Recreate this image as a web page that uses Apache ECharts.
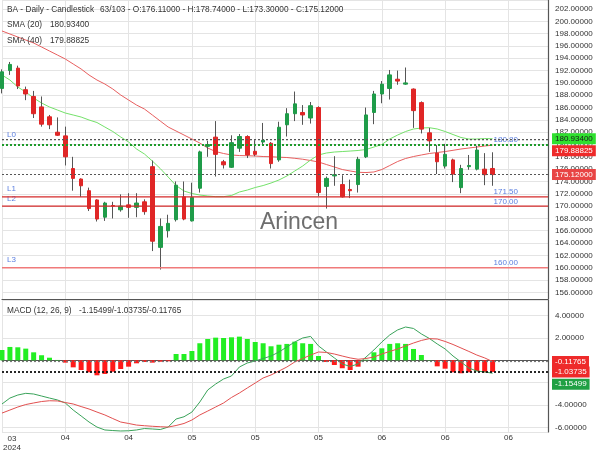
<!DOCTYPE html>
<html>
<head>
<meta charset="utf-8">
<script src="https://cdn.jsdelivr.net/npm/echarts@6.0.0/dist/echarts.min.js"></script>
<style>
html,body{margin:0;padding:0;background:#ffffff;}
#chart{width:600px;height:450px;}
</style>
</head>
<body>
<div id="chart"></div>
<script>
// ---------------- DATA ----------------
const categories = [
 '2024-03-27','2024-03-28','2024-04-01','2024-04-02','2024-04-03','2024-04-04','2024-04-05','2024-04-08',
 '2024-04-09','2024-04-10','2024-04-11','2024-04-12','2024-04-15','2024-04-16','2024-04-17','2024-04-18',
 '2024-04-19','2024-04-22','2024-04-23','2024-04-24','2024-04-25','2024-04-26','2024-04-29','2024-04-30',
 '2024-05-01','2024-05-02','2024-05-03','2024-05-06','2024-05-07','2024-05-08','2024-05-09','2024-05-10',
 '2024-05-13','2024-05-14','2024-05-15','2024-05-16','2024-05-17','2024-05-20','2024-05-21','2024-05-22',
 '2024-05-23','2024-05-24','2024-05-28','2024-05-29','2024-05-30','2024-05-31','2024-06-03','2024-06-04',
 '2024-06-05','2024-06-06','2024-06-07','2024-06-10','2024-06-11','2024-06-12','2024-06-13','2024-06-14',
 '2024-06-17','2024-06-18','2024-06-20','2024-06-21','2024-06-24','2024-06-25','2024-06-26','2024-06-27',
 '2024-06-28','2024-07-01','2024-07-02','2024-07-03','2024-07-05','2024-07-08'
];
const tickEvery = 8;
const tickLabels = ['03','04','04','05','05','05','06','06','06'];
const yearLabel = '2024';

// [open, high, low, close]
const ohlc = [
 [189.1,192.2,188.3,191.8],[192.0,193.4,191.3,193.0],[192.4,192.8,189.0,189.5],[188.9,189.4,187.2,188.2],
 [187.8,188.7,184.3,185.0],[186.1,187.8,182.9,183.3],[184.5,184.8,182.5,183.2],[182.0,184.4,181.4,181.5],
 [181.4,182.9,176.6,178.0],[176.1,178.0,172.5,174.5],[174.4,174.5,171.5,173.3],[172.5,173.0,169.2,169.6],
 [171.0,171.1,167.5,167.9],[168.2,170.7,167.6,170.5],[170.1,170.7,168.0,170.0],[169.4,171.9,169.1,170.0],
 [170.2,172.1,168.1,169.8],[169.8,172.1,168.2,170.5],[170.7,171.1,168.6,169.1],[176.4,177.4,162.7,164.3],
 [163.3,168.0,159.7,166.7],[166.0,168.6,164.9,167.2],[167.8,174.0,167.5,173.4],[171.5,174.0,167.7,167.9],
 [167.6,173.8,167.5,171.4],[172.9,179.0,172.2,178.8],[179.7,180.6,178.0,180.0],[181.2,183.8,174.8,178.4],
 [177.2,177.5,176.1,176.7],[176.3,181.5,176.2,180.3],[179.4,181.7,178.8,181.3],[181.3,181.5,177.8,178.3],
 [178.9,180.7,178.1,178.4],[180.4,183.5,179.8,180.7],[180.2,180.4,176.1,176.9],[177.5,183.7,177.2,182.8],
 [183.2,185.9,181.3,185.0],[185.0,188.6,183.8,186.6],[185.2,186.4,183.2,184.8],[184.3,186.9,183.4,186.3],
 [186.0,186.2,171.6,172.2],[173.2,174.8,169.6,174.5],[174.9,178.1,173.3,175.1],[173.5,175.0,171.4,171.5],
 [172.7,174.3,171.3,172.5],[173.5,178.0,172.2,177.6],[178.0,186.0,177.8,184.8],[185.2,188.7,183.3,188.2],
 [188.2,190.3,186.7,189.8],[189.1,192.1,187.3,191.3],[190.6,192.0,189.7,190.3],[189.8,192.5,189.7,190.0],
 [189.0,189.1,182.7,185.5],[186.8,187.0,181.8,182.5],[181.9,182.7,178.8,180.6],[178.6,179.9,175.2,177.2],
 [176.5,180.1,176.1,178.4],[177.5,177.7,173.9,175.2],[173.0,176.7,172.1,176.1],[176.4,178.3,175.9,176.6],
 [176.0,179.8,175.8,179.1],[176.0,178.6,173.4,175.1],[176.11,178.74,173.30,175.12]
];

const sma20 = [
 191.28,190.47,189.33,188.52,187.55,186.74,186.09,185.60,185.11,184.79,
 184.46,183.98,183.57,182.84,182.11,181.22,180.41,179.27,178.46,177.32,
 176.10,174.72,173.34,172.45,172.05,171.80,171.64,171.53,171.53,171.72,
 172.29,172.61,173.02,173.34,173.75,174.24,174.89,175.70,176.51,177.49,
 178.30,178.62,178.78,178.86,178.94,179.03,179.19,179.59,180.00,180.89,
 181.54,182.11,182.52,182.68,182.73,182.52,182.11,181.62,181.14,180.89,
 180.89,180.97,180.934
];
const sma40 = [
 198.43,197.94,197.45,196.96,196.48,195.83,195.18,194.53,193.88,193.07,
 192.26,191.28,190.47,189.82,189.01,188.04,187.22,186.41,185.76,184.79,
 183.81,182.84,182.19,181.54,180.89,180.24,179.43,178.86,178.54,178.30,
 178.21,178.18,178.13,178.05,178.02,177.94,177.89,177.76,177.61,177.40,
 177.16,176.75,176.35,175.94,175.70,175.49,175.45,175.54,175.94,176.59,
 177.24,177.73,178.05,178.30,178.54,178.70,178.86,179.06,179.27,179.43,
 179.59,179.76,179.88825
];

const macdLine = [
 -3.90,-3.37,-3.10,-2.95,-3.01,-3.19,-3.37,-3.54,-3.81,-4.44,
 -4.97,-5.51,-5.96,-6.22,-6.27,-6.31,-6.29,-6.22,-6.09,-6.13,
 -6.18,-5.96,-5.24,-5.04,-4.62,-3.72,-2.65,-2.12,-1.67,-1.40,
 -0.60,-0.24,-0.06,0.16,0.38,0.74,1.19,1.63,1.99,2.13,
 1.28,0.74,0.21,-0.33,-0.55,-0.33,0.29,0.92,1.63,2.26,
 2.71,2.97,2.84,2.35,1.95,1.46,1.01,0.38,-0.15,-0.69,
 -0.96,-1.04,-1.15499
];
const signalLine = [
 -4.71,-4.44,-4.17,-3.95,-3.81,-3.68,-3.61,-3.63,-3.77,-3.90,
 -4.13,-4.35,-4.62,-4.88,-5.20,-5.51,-5.64,-5.78,-5.84,-5.89,
 -5.93,-5.96,-5.82,-5.64,-5.33,-4.88,-4.53,-4.17,-3.81,-3.32,
 -2.92,-2.47,-2.03,-1.58,-1.31,-0.96,-0.60,-0.15,0.16,0.47,
 0.74,0.70,0.56,0.38,0.21,0.09,0.16,0.29,0.56,0.79,
 1.01,1.28,1.54,1.77,1.93,1.90,1.68,1.41,1.10,0.79,
 0.47,0.21,-0.11765
];
const histogram = [
 0.92,1.19,1.16,1.04,0.71,0.45,0.23,0.03,-0.21,-0.63,
 -0.87,-1.07,-1.34,-1.22,-1.02,-0.78,-0.57,-0.27,-0.15,-0.21,
 -0.13,-0.09,0.56,0.56,0.83,1.52,1.90,2.02,1.99,2.05,
 2.11,1.90,1.63,1.52,1.25,1.39,1.46,1.66,1.52,1.46,
 0.38,-0.15,-0.42,-0.71,-0.87,-0.57,0.05,0.71,1.07,1.46,
 1.52,1.46,1.01,0.47,0.02,-0.54,-0.75,-1.07,-1.16,-1.07,
 -0.96,-1.07,-1.03735
];

const levelNames  = ['L0','L1','L2','L3'];
const levelValues = [180.80, 171.50, 170.00, 160.00];
const levelTexts  = ['180.80','171.50','170.00','160.00'];

const lastClose = 175.12;
const lastSma20 = 180.934;
const lastSma40 = 179.88825;
const lastMacd = -1.15499;
const lastHist = -1.03735;
const lastSignal = -0.11765;

const priceRange = [154.92, 203.46];
const macdRange = [-6.40, 5.38];

const headerTitle = 'BA - Daily - Candlestick';
const headerOhlc = '63/103 - O:176.11000 - H:178.74000 - L:173.30000 - C:175.12000';
const sma20Title = 'SMA (20)', sma40Title = 'SMA (40)';
const macdTitle = 'MACD (12, 26, 9)';
const watermark = 'Arincen';

// ---------------- STYLES ----------------
const FONT = '"Liberation Sans", Arial, Helvetica, sans-serif';
const UP = '#1f9c49', DOWN = '#e02626', WICK = '#555555';
const LEVEL_BLUE = '#5b7fe0';
const CLEAR = 'rgba(0,0,0,0)';
const levelStyles = {
  L0: {line:{color:'#555555', type:[2,2], width:1.2}, left:[5,0.5], rightPos:'insideEnd', right:[30,0]},
  L1: {line:{color:'#d42a2a', type:'solid', width:1.2}, left:[5,4], rightPos:'insideEndTop', right:[30,1.4]},
  L2: {line:{color:'#d42a2a', type:'solid', width:1.2}, left:[5,3], rightPos:'insideEndTop', right:[30,0.5]},
  L3: {line:{color:'#f07a7a', type:'solid', width:1.5}, left:[5,4], rightPos:'insideEndTop', right:[30,0.7]}
};
const lastIdx = categories.length - 1;

function priceBox(value, text, bg, fg, dy) {
  return {
    coord: [lastIdx, value], symbol: 'rect', symbolSize: 0,
    label: {show: true, position: 'right', distance: 4, formatter: text,
      backgroundColor: bg, color: fg, fontSize: 8, fontFamily: FONT,
      padding: [2, 3, 1, 3], offset: [0, dy || 0]}
  };
}

// level lines: drawn as flat line series across the whole category range
const levelLineSeries = levelNames.map((n, k) => ({
  name: 'level-' + n, type: 'line', xAxisIndex: 0, yAxisIndex: 0, symbol: 'none', z: 5,
  silent: true, clip: false,
  data: [[categories[0], levelValues[k]], [categories[lastIdx], levelValues[k]]],
  lineStyle: levelStyles[n].line
}));
// level labels (left name / right value) as label-only mark lines
const levelLabelSeries = levelNames.map((n, k) => {
  const st = levelStyles[n];
  return {
    name: 'levellabel-' + n, type: 'line', xAxisIndex: 0, yAxisIndex: 0, data: [], z: 6,
    markLine: {silent: true, symbol: ['none', 'none'], animation: false, data: [
      {yAxis: levelValues[k], lineStyle: {color: CLEAR, width: 1, type: 'solid'},
       label: {show: true, position: 'insideStartTop', formatter: n, distance: st.left,
         color: LEVEL_BLUE, fontSize: 8, fontFamily: FONT}},
      {yAxis: levelValues[k], lineStyle: {color: CLEAR, width: 1, type: 'solid'},
       label: {show: true, position: st.rightPos, formatter: levelTexts[k], distance: st.right,
         color: LEVEL_BLUE, fontSize: 8, fontFamily: FONT}}
    ]}
  };
});

const showTick = (i) => i % tickEvery === 0;

const chart = echarts.init(document.getElementById('chart'), null, {renderer: 'canvas'});
const option = {
  animation: false,
  backgroundColor: '#ffffff',
  textStyle: {fontFamily: FONT},
  grid: [
    {left: 2, right: 52, top: 0, bottom: 151, outerBoundsMode: 'none', containLabel: false},
    {left: 2, right: 52, top: 300, bottom: 18, outerBoundsMode: 'none', containLabel: false}
  ],
  xAxis: [
    {type: 'category', gridIndex: 0, data: categories, boundaryGap: false,
     axisLine: {show: true, lineStyle: {color: '#555', width: 1.2}}, axisTick: {show: false},
     axisLabel: {show: false},
     splitLine: {show: true, interval: showTick, lineStyle: {color: '#e4e4e4', width: 1}}},
    {type: 'category', gridIndex: 1, data: categories, boundaryGap: false,
     axisLine: {show: true, lineStyle: {color: '#555', width: 1.2}}, axisTick: {show: false},
     axisLabel: {show: true, interval: showTick, fontSize: 8, color: '#333', margin: 2,
       formatter: (v, i) => {
         const t = tickLabels[Math.floor(i / tickEvery)];
         return i === 0 ? '{f|' + t + '}\n{f|' + yearLabel + '}' : t;
       },
       rich: {f: {fontSize: 8, color: '#333', padding: [0, 0, 0, 20], lineHeight: 9, fontFamily: FONT}}},
     splitLine: {show: true, interval: showTick, lineStyle: {color: '#e4e4e4', width: 1}}}
  ],
  yAxis: [
    {type: 'value', gridIndex: 0, position: 'right', min: priceRange[0], max: priceRange[1],
     minInterval: 2, maxInterval: 2, splitNumber: 24, scale: true,
     axisLine: {show: true, lineStyle: {color: '#555', width: 1.2}}, axisTick: {show: false},
     axisLabel: {fontSize: 8, color: '#333', margin: 7, showMinLabel: false, showMaxLabel: false,
       formatter: v => v.toFixed(5)},
     splitLine: {show: true, lineStyle: {color: '#e4e4e4', width: 1}}},
    {type: 'value', gridIndex: 1, position: 'right', min: macdRange[0], max: macdRange[1],
     minInterval: 2, maxInterval: 2, splitNumber: 6,
     axisLine: {show: true, lineStyle: {color: '#555', width: 1.2}}, axisTick: {show: false},
     axisLabel: {fontSize: 8, color: '#333', margin: 7, showMinLabel: false, showMaxLabel: false,
       formatter: v => v.toFixed(5)},
     splitLine: {show: true, lineStyle: {color: '#e4e4e4', width: 1}}}
  ],
  series: [
    {name: 'SMA40', type: 'line', xAxisIndex: 0, yAxisIndex: 0, data: sma40, symbol: 'none',
     lineStyle: {color: '#e85f5f', width: 1}, clip: false, z: 2,
     markPoint: {data: [priceBox(lastSma40, lastSma40.toFixed(5), '#ee2a2a', '#ffffff', 5.6)]}},
    {name: 'SMA20', type: 'line', xAxisIndex: 0, yAxisIndex: 0, data: sma20, symbol: 'none',
     lineStyle: {color: '#74e26a', width: 1}, clip: false, z: 2,
     markPoint: {z: 10, data: [priceBox(lastSma20, lastSma20.toFixed(5), '#2fe02f', '#1a1a1a', 0)]}},
    {name: 'wick', type: 'candlestick', xAxisIndex: 0, yAxisIndex: 0, barWidth: 1, clip: false, z: 3,
     data: ohlc.map(d => [d[0], d[3], d[2], d[1]]),
     itemStyle: {color: WICK, color0: WICK, borderColor: WICK, borderColor0: WICK, borderWidth: 1}},
    {name: 'body', type: 'candlestick', xAxisIndex: 0, yAxisIndex: 0, barWidth: 4, clip: false, z: 4,
     data: ohlc.map(d => [d[0], d[3], Math.min(d[0], d[3]), Math.max(d[0], d[3])]),
     itemStyle: {color: UP, color0: DOWN, borderColor: UP, borderColor0: DOWN, borderWidth: 1},
     markLine: {silent: true, symbol: ['none', 'none'], animation: false, data: [
       {yAxis: lastSma40, lineStyle: {color: '#1d9a2a', type: [2,2], width: 2}, label: {show: false}},
       {yAxis: lastClose, lineStyle: {color: '#555', type: [2,2], width: 1.2}, label: {show: false}}
     ]},
     markPoint: {data: [priceBox(lastClose, lastClose.toFixed(5), '#e84444', '#ffffff', 0)]}},
    ...levelLineSeries,
    ...levelLabelSeries,
    {name: 'hist', type: 'bar', xAxisIndex: 1, yAxisIndex: 1, data: histogram, barWidth: 5,
     itemStyle: {color: p => p.value >= 0 ? '#22ee22' : '#ff1a1a'},
     markLine: {silent: true, symbol: ['none', 'none'], animation: false, data: [
       {yAxis: lastSignal, lineStyle: {color: '#777', type: [2,2], width: 1.2}, label: {show: false}},
       {yAxis: lastHist, lineStyle: {color: '#111', type: [2,2], width: 1.8}, label: {show: false}}
     ]},
     markPoint: {data: [priceBox(lastHist, lastHist.toFixed(5), '#ee2a2a', '#ffffff', 0)]}},
    {name: 'MACD', type: 'line', xAxisIndex: 1, yAxisIndex: 1, data: macdLine, symbol: 'none',
     lineStyle: {color: '#3aa35a', width: 1}, clip: false, z: 3,
     markPoint: {data: [priceBox(lastMacd, lastMacd.toFixed(5), '#20a044', '#ffffff', 11)]}},
    {name: 'Signal', type: 'line', xAxisIndex: 1, yAxisIndex: 1, data: signalLine, symbol: 'none',
     lineStyle: {color: '#e25050', width: 1}, clip: false, z: 3,
     markPoint: {data: [priceBox(lastSignal, lastSignal.toFixed(5), '#ee2a2a', '#ffffff', 0)]}}
  ],
  graphic: [
    {type: 'text', x: 260, y: 223, z: 1, silent: true,
     style: {text: watermark, font: '23px ' + FONT, fill: '#6e6e6e', verticalAlign: 'middle'}},
    {type: 'text', x: 7, y: 9.5, z: 100, style: {text: headerTitle, font: '8.3px ' + FONT, fill: '#333', verticalAlign: 'middle'}},
    {type: 'text', x: 100, y: 9.5, z: 100, style: {text: headerOhlc, font: '8.3px ' + FONT, fill: '#333', verticalAlign: 'middle'}},
    {type: 'text', x: 7, y: 25, z: 100, style: {text: sma20Title, font: '8.3px ' + FONT, fill: '#333', verticalAlign: 'middle'}},
    {type: 'text', x: 50, y: 25, z: 100, style: {text: lastSma20.toFixed(5), font: '8.3px ' + FONT, fill: '#333', verticalAlign: 'middle'}},
    {type: 'text', x: 7, y: 41, z: 100, style: {text: sma40Title, font: '8.3px ' + FONT, fill: '#333', verticalAlign: 'middle'}},
    {type: 'text', x: 50, y: 41, z: 100, style: {text: lastSma40.toFixed(5), font: '8.3px ' + FONT, fill: '#333', verticalAlign: 'middle'}},
    {type: 'text', x: 7, y: 311, z: 100, style: {text: macdTitle, font: '8.3px ' + FONT, fill: '#333', verticalAlign: 'middle'}},
    {type: 'text', x: 79, y: 311, z: 100, style: {text: lastMacd.toFixed(5) + '/' + lastHist.toFixed(5) + '/' + lastSignal.toFixed(5), font: '8.3px ' + FONT, fill: '#333', verticalAlign: 'middle'}}
  ]
};
chart.setOption(option);
</script>
</body>
</html>
